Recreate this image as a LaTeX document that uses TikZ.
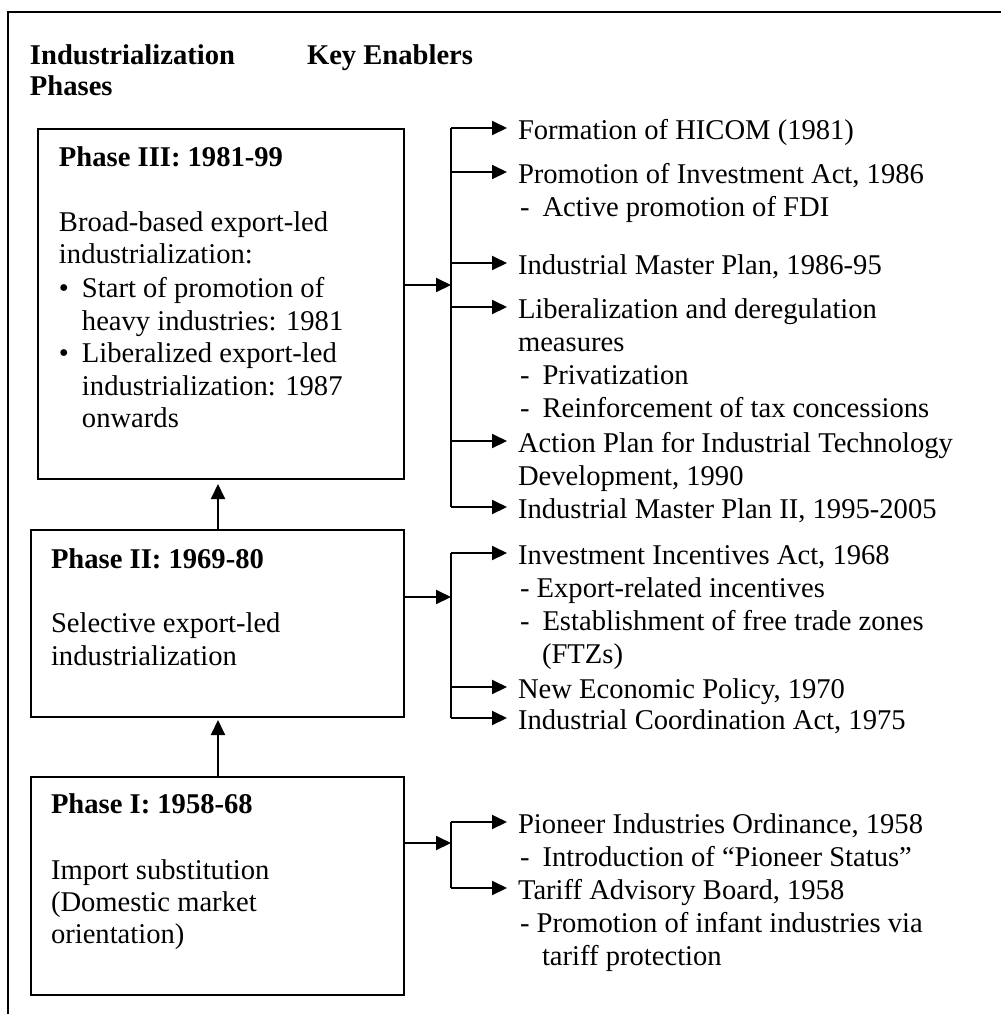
\documentclass[tikz,border=0pt]{standalone}
\usepackage{fontspec}
\setmainfont{Liberation Serif}
\usetikzlibrary{arrows.meta}
\newcommand\myfs{\fontsize{14.3}{17}\selectfont}
\begin{document}
\begin{tikzpicture}[x=0.5pt,y=-0.5pt,
  txt/.style={inner sep=0pt, outer sep=0pt, anchor=base west, font=\myfs},
  hd/.style={txt, font=\myfs\bfseries},
  phbox/.style={draw, line width=1pt, anchor=north west, inner sep=0pt, outer sep=0pt, minimum width=#1},
  arr/.style={line width=1pt, -{Triangle[length=7.5pt,width=7pt]}},
  ln/.style={line width=1pt}]
\useasboundingbox (0,0) rectangle (1001,1014);
% outer frame (cut off)
\draw[line width=1.3pt] (8,1020) -- (8,12) -- (1010,12);
% headers
\node[hd] (h1) at (30,64) {Industrialization};
\node[hd] (h2) at (30,95) {Phases};
\node[hd] (h3) at (307,64) {Key Enablers};
% boxes
\node[phbox=183pt, minimum height=175pt] (p3) at (38,129) {};
\node[phbox=186.5pt, minimum height=93.5pt] (p2) at (31,530) {};
\node[phbox=186.5pt, minimum height=109pt] (p1) at (31,777) {};
% phase III text
\node[hd] (t3a) at (59,166) {Phase III: 1981-99};
\node[txt] (t3b) at (59,231) {Broad-based export-led};
\node[txt] (t3c) at (59,263) {industrialization:};
\node[txt] (b3a) at (59,297) {•};
\node[txt] (t3d) at (82,297) {Start of promotion of};
\node[txt] (t3e) at (82,330) {heavy industries: 1981};
\node[txt] (b3b) at (59,362) {•};
\node[txt] (t3f) at (82,362) {Liberalized export-led};
\node[txt] (t3g) at (82,395) {industrialization: 1987};
\node[txt] (t3h) at (82,427) {onwards};
% phase II text
\node[hd] (t2a) at (51,568) {Phase II: 1969-80};
\node[txt] (t2b) at (51,632) {Selective export-led};
\node[txt] (t2c) at (51,665) {industrialization};
% phase I text
\node[hd] (t1a) at (51,813) {Phase I: 1958-68};
\node[txt] (t1b) at (51,879) {Import substitution};
\node[txt] (t1c) at (51,911) {(Domestic market};
\node[txt] (t1d) at (51,943) {orientation)};
% vertical arrows
\draw[arr] (p2.north -| 218,0) -- (218,484);
\draw[arr] (p1.north -| 218,0) -- (218,720);
% enablers phase III
\node[txt] (e1) at (518,139) {Formation of HICOM (1981)};
\node[txt] (e2) at (518,183) {Promotion of Investment Act, 1986};
\node[txt] (e2a) at (520,216) {-\hspace{6.5pt}Active promotion of FDI};
\node[txt] (e3) at (518,274) {Industrial Master Plan, 1986-95};
\node[txt] (e4) at (518,318) {Liberalization and deregulation};
\node[txt] (e4a) at (518,351) {measures};
\node[txt] (e4b) at (520,384) {-\hspace{6.5pt}Privatization};
\node[txt] (e4c) at (520,417) {-\hspace{6.5pt}Reinforcement of tax concessions};
\node[txt] (e5) at (518,452) {Action Plan for Industrial Technology};
\node[txt] (e5a) at (518,485) {Development, 1990};
\node[txt] (e6) at (518,518) {Industrial Master Plan II, 1995-2005};
% enablers phase II
\node[txt] (f1) at (518,564) {Investment Incentives Act, 1968};
\node[txt] (f1a) at (520,597) {- Export-related incentives};
\node[txt] (f1b) at (520,630) {-\hspace{6.5pt}Establishment of free trade zones};
\node[txt] (f1c) at (542,663) {(FTZs)};
\node[txt] (f2) at (518,698) {New Economic Policy, 1970};
\node[txt] (f3) at (518,729) {Industrial Coordination Act, 1975};
% enablers phase I
\node[txt] (g1) at (518,833) {Pioneer Industries Ordinance, 1958};
\node[txt] (g1a) at (520,866) {-\hspace{6.5pt}Introduction of “Pioneer Status”};
\node[txt] (g2) at (518,899) {Tariff Advisory Board, 1958};
\node[txt] (g2a) at (520,932) {- Promotion of infant industries via};
\node[txt] (g2b) at (542,965) {tariff protection};
% bus coordinates
\coordinate (c3) at (451,285);
\coordinate (c2) at (451,597);
\coordinate (c1) at (451,843);
% phase III connectors
\draw[arr] (p3.east |- c3) -- (c3);
\draw[ln] (451,128) -- (451,507);
\foreach \yy/\nm in {128/e1,172/e2,263/e3,307/e4,441/e5,507/e6}
  \draw[arr] (451,\yy) -- ([xshift=-5.5pt]\nm.west |- 0,\yy);
% phase II connectors
\draw[arr] (p2.east |- c2) -- (c2);
\draw[ln] (451,553) -- (451,718);
\foreach \yy/\nm in {553/f1,687/f2,718/f3}
  \draw[arr] (451,\yy) -- ([xshift=-5.5pt]\nm.west |- 0,\yy);
% phase I connectors
\draw[arr] (p1.east |- c1) -- (c1);
\draw[ln] (451,822) -- (451,888);
\foreach \yy/\nm in {822/g1,888/g2}
  \draw[arr] (451,\yy) -- ([xshift=-5.5pt]\nm.west |- 0,\yy);
\end{tikzpicture}
\end{document}
